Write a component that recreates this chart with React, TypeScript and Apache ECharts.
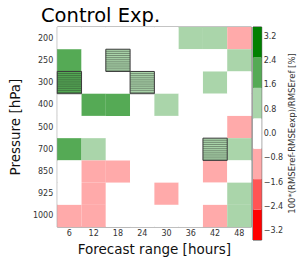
import React, { useEffect, useRef } from 'react';
import * as echarts from 'echarts';

const forecastHours = ['6', '12', '18', '24', '30', '36', '42', '48'];
const pressureLevels = ['200', '250', '300', '400', '500', '700', '850', '925', '1000'];

// rows follow pressureLevels, columns follow forecastHours
const row200 = [0.1, 0.0, 0.0, 0.0, 0.1, 1.0, 0.9, -1.0];
const row250 = [2.0, 0.2, 1.1, 0.0, 0.0, 0.1, 0.0, 0.9];
const row300 = [2.1, 0.0, 0.0, 1.0, 0.0, 0.0, 0.8, 0.2];
const row400 = [0.0, 1.9, 2.0, 0.1, 0.9, 0.0, 0.0, 0.0];
const row500 = [0.0, 0.0, 0.0, 0.0, 0.0, 0.0, 0.2, -0.9];
const row700 = [2.0, 1.0, 0.0, 0.0, 0.0, 0.0, 1.1, 0.9];
const row850 = [0.0, -0.9, -0.8, 0.0, 0.0, 0.0, -1.0, 0.3];
const row925 = [0.0, -1.0, 0.0, 0.0, -0.9, 0.0, 0.0, 1.0];
const row1000 = [-1.0, -1.1, 0.0, 0.0, 0.0, 0.0, -0.9, 1.0];
const scoreRows = [row200, row250, row300, row400, row500, row700, row850, row925, row1000];

// significant cells [forecast hour, pressure]
const hatchedCells: [string, string][] = [
  ['18', '250'],
  ['6', '300'],
  ['24', '300'],
  ['42', '700'],
];

const colorLevels = [-3.5, -2.5, -1.5, -0.5, 0.5, 1.5, 2.5, 3.5];
const levelColors = ['#ff0000', '#ff5555', '#ffaaaa', '#ffffff', '#aad5aa', '#55aa55', '#008000'];
const colorbarTicks = [-3.2, -2.4, -1.6, -0.8, 0.0, 0.8, 1.6, 2.4, 3.2];

const FONT = 'DejaVu Sans';

function colorFor(v: number): string {
  for (let i = 0; i < levelColors.length; i++) {
    if (v >= colorLevels[i] && v < colorLevels[i + 1]) return levelColors[i];
  }
  return v < colorLevels[0] ? levelColors[0] : levelColors[levelColors.length - 1];
}

export default function App() {
  const ref = useRef<HTMLDivElement>(null);
  useEffect(() => {
    document.body.style.margin = '0';
    if (!ref.current) return;
    const chart = echarts.init(ref.current, undefined, { renderer: 'svg' });

    const cellData: number[][] = [];
    scoreRows.forEach((row, yi) => row.forEach((v, xi) => cellData.push([xi, yi, v])));
    const hatchData = hatchedCells.map(([h, p]) => {
      const xi = forecastHours.indexOf(h);
      const yi = pressureLevels.indexOf(p);
      return [xi, yi, scoreRows[yi][xi]];
    });
    const cbData = levelColors.map((c, i) => [0, colorLevels[i], colorLevels[i + 1], i]);

    const tickStyle = { inside: true, alignWithLabel: true, length: 3, lineStyle: { color: '#666', width: 1 } };

    chart.setOption({
      animation: false,
      textStyle: { fontFamily: FONT },
      title: {
        text: 'Control Exp.',
        left: 36,
        top: 0,
        textStyle: { fontFamily: FONT, fontSize: 19.5, fontWeight: 'normal', color: '#000' },
      },
      grid: [
        { left: 45, top: 27, width: 206.5, height: 213, show: true, borderColor: '#888', borderWidth: 1, backgroundColor: '#fff' },
        { left: 253, top: 27, width: 12.5, height: 213, show: true, borderColor: '#444', borderWidth: 1 },
      ],
      xAxis: [
        {
          gridIndex: 0, type: 'category', data: forecastHours, position: 'bottom',
          axisLine: { show: false }, axisTick: tickStyle,
          axisLabel: { fontSize: 8, color: '#333', margin: 2, fontFamily: FONT },
          name: 'Forecast range [hours]', nameLocation: 'middle', nameGap: 12,
          nameTextStyle: { fontSize: 13.5, color: '#111', fontFamily: FONT },
        },
        {
          gridIndex: 0, type: 'category', data: forecastHours, position: 'top',
          axisLine: { show: false }, axisTick: tickStyle, axisLabel: { show: false },
        },
        { gridIndex: 1, type: 'category', data: ['cb'], show: false },
      ],
      yAxis: [
        {
          gridIndex: 0, type: 'category', data: pressureLevels, inverse: true, position: 'left',
          axisLine: { show: false }, axisTick: tickStyle,
          axisLabel: { fontSize: 8, color: '#333', margin: 4, fontFamily: FONT },
          name: 'Pressure [hPa]', nameLocation: 'middle', nameGap: 25, nameRotate: 90,
          nameTextStyle: { fontSize: 13.5, color: '#111', fontFamily: FONT },
        },
        {
          gridIndex: 0, type: 'category', data: pressureLevels, inverse: true, position: 'right',
          axisLine: { show: false }, axisTick: tickStyle, axisLabel: { show: false },
        },
        {
          gridIndex: 1, type: 'value', min: -3.5, max: 3.5, position: 'right',
          axisLine: { show: false }, splitLine: { show: false },
          axisTick: { show: true, inside: true, length: 2, customValues: colorbarTicks, lineStyle: { color: '#555' } },
          axisLabel: {
            fontSize: 8, color: '#333', margin: 2, customValues: colorbarTicks, fontFamily: FONT,
            formatter: (v: number) => v.toFixed(1).replace('-', '\u2212'),
          },
          name: '100*(RMSEref-RMSEexp)/RMSEref [%]', nameLocation: 'middle', nameRotate: 90, nameGap: 22,
          nameTextStyle: { fontSize: 8.5, color: '#333', fontFamily: FONT },
        },
      ],
      series: [
        {
          type: 'custom', xAxisIndex: 0, yAxisIndex: 0, data: cellData, silent: true,
          renderItem: (params: any, api: any) => {
            const c = api.coord([api.value(0), api.value(1)]);
            const s = api.size([1, 1]);
            return {
              type: 'rect',
              shape: { x: c[0] - s[0] / 2, y: c[1] - s[1] / 2, width: s[0], height: s[1] },
              style: { fill: colorFor(api.value(2)) },
            };
          },
        },
        {
          type: 'custom', xAxisIndex: 0, yAxisIndex: 0, data: hatchData, silent: true, z: 3,
          renderItem: (params: any, api: any) => {
            const c = api.coord([api.value(0), api.value(1)]);
            const s = api.size([1, 1]);
            const x0 = c[0] - s[0] / 2;
            const y0 = c[1] - s[1] / 2;
            const children: any[] = [];
            const step = 2.1;
            for (let y = y0 + step; y < y0 + s[1] - 0.5; y += step) {
              children.push({
                type: 'line',
                shape: { x1: x0, y1: y, x2: x0 + s[0], y2: y },
                style: { stroke: 'rgba(35,35,35,0.45)', lineWidth: 0.9 },
              });
            }
            children.push({
              type: 'rect',
              shape: { x: x0, y: y0, width: s[0], height: s[1] },
              style: { fill: 'none', stroke: '#3a3a3a', lineWidth: 1 },
            });
            return { type: 'group', children };
          },
        },
        {
          type: 'custom', xAxisIndex: 2, yAxisIndex: 2, data: cbData, silent: true,
          encode: { x: 0, y: [1, 2] },
          renderItem: (params: any, api: any) => {
            const top = api.coord([0, api.value(2)]);
            const bot = api.coord([0, api.value(1)]);
            const w = api.size([1, 0])[0];
            return {
              type: 'rect',
              shape: { x: top[0] - w / 2, y: top[1], width: w, height: bot[1] - top[1] },
              style: { fill: levelColors[api.value(3)] },
            };
          },
        },
      ],
    });
    return () => chart.dispose();
  }, []);
  return <div ref={ref} style={{ width: 297, height: 261 }} />;
}
